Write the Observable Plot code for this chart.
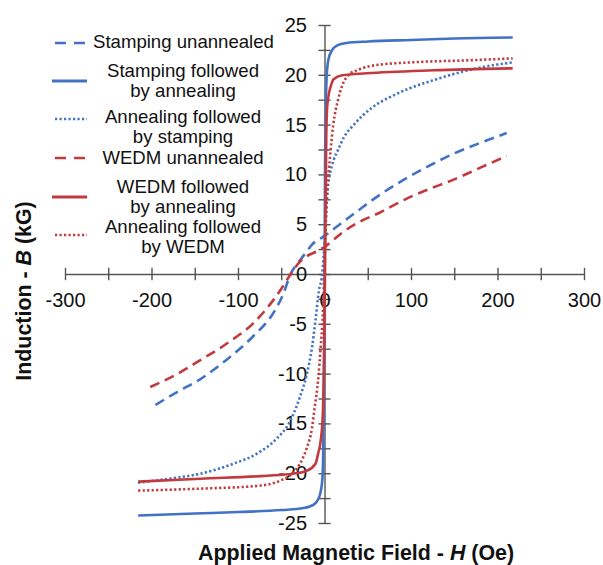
<!DOCTYPE html>
<html>
<head>
<meta charset="utf-8">
<script src="https://cdn.jsdelivr.net/npm/d3@7"></script>
<script src="https://cdn.jsdelivr.net/npm/@observablehq/plot@0.6"></script>
<style>
  body { margin: 0; background: #fff; }
  #wrap { position: relative; width: 603px; height: 565px; font-family: "Liberation Sans", Arial, sans-serif; color: #111; }
  #wrap svg.plot { position: absolute; left: 0; top: 0; }
  .ttl { position: absolute; font-weight: bold; font-size: 21.4px; white-space: nowrap; color: #111; }
  .leg { position: absolute; left: 93px; width: 180px; text-align: center; font-size: 18.6px; line-height: 20px; color: #111; white-space: nowrap; }
  #sw { position: absolute; left: 0; top: 0; }
</style>
</head>
<body>
<div id="wrap"></div>
<script>
// ---- Data: Applied field H (Oe) vs induction B (kG) ----
const stampingUnannealed = [[-196,-13.1],[-171,-11.8],[-144,-10.5],[-113,-8.5],[-83,-6.2],[-60,-3.9],[-48,-1.9],[-40,0],[-30,1.3],[-23,2.1],[-15,3.0],[0,3.9],[15,4.9],[38,6.4],[60,7.8],[87,9.3],[118,10.8],[148,12.1],[179,13.2],[210,14.2]];
const stampingAnnealed = [[-216,-24.2],[-150,-24.0],[-100,-23.85],[-50,-23.65],[-25,-23.45],[-13,-23.1],[-8,-22.6],[-5,-21.8],[-3,-20.5],[-2,-17.5],[-1.2,-10],[-0.5,0],[0,10],[0.8,16],[2,20],[4,21.6],[8,22.5],[14,23.0],[25,23.25],[50,23.4],[100,23.55],[150,23.7],[217,23.8]];
const annealingStamping = [[-216,-20.9],[-180,-20.5],[-144,-20.0],[-106,-19.0],[-79,-18.0],[-55,-16.4],[-42,-15.0],[-29,-12.3],[-21,-10.0],[-15,-7.3],[-11,-4.6],[-7,-1.6],[-3.3,0],[0,4],[1.5,6.5],[3,8.5],[5.5,10],[10,11.5],[15,12.5],[22,13.8],[33,15],[55,16.8],[75,17.8],[98,18.7],[125,19.5],[156,20.3],[187,20.9],[217,21.3]];
const wedmUnannealed = [[-202,-11.3],[-171,-10.0],[-148,-8.8],[-113,-6.9],[-83,-4.9],[-60,-2.6],[-48,-1.1],[-40,0],[-30,1.2],[-20,1.9],[-10,2.3],[0,2.8],[10,3.5],[20,4.2],[38,5.2],[63,6.2],[94,7.6],[121,8.6],[148,9.5],[179,10.7],[210,11.9]];
const wedmAnnealed = [[-216,-20.8],[-144,-20.5],[-67,-20.2],[-37,-20.0],[-21,-19.7],[-11,-19.0],[-8,-18.0],[-5,-16.7],[-2.5,-14],[-1,-8],[0,0],[0.8,8],[1.5,14],[2.5,16.8],[4.2,18],[7,19],[10,19.6],[20,20.0],[48,20.2],[125,20.5],[217,20.7]];
const annealingWedm = [[-216,-21.7],[-144,-21.5],[-75,-21.2],[-52,-20.7],[-38,-20.0],[-29,-19.0],[-21,-17.4],[-15,-15.4],[-12,-13.4],[-8,-10.6],[-5,-7.3],[-2.5,-4],[-1,0],[0.5,4],[2,7.5],[4,10],[6.5,12.5],[9.5,15],[15,17.5],[20,19],[27,20],[40,20.6],[57,21],[100,21.3],[164,21.5],[217,21.7]];

const seriesNames = [
  ["Stamping unannealed"],
  ["Stamping followed", "by annealing"],
  ["Annealing followed", "by stamping"],
  ["WEDM unannealed"],
  ["WEDM followed", "by annealing"],
  ["Annealing followed", "by WEDM"]
];
const seriesData = [stampingUnannealed, stampingAnnealed, annealingStamping, wedmUnannealed, wedmAnnealed, annealingWedm];
const seriesColors = ["#4272c6", "#4272c6", "#4272c6", "#c23a3e", "#c23a3e", "#c23a3e"];
const seriesDash = ["10,6", null, "2.2,2.3", "10,6", null, "2.2,2.3"];

const xTickValues = [-300,-250,-200,-150,-100,-50,0,50,100,150,200,250,300];
const xTickLabels = [-300,-200,-100,0,100,200,300];
const yTickValues = [-25,-22.5,-20,-17.5,-15,-12.5,-10,-7.5,-5,-2.5,0,2.5,5,7.5,10,12.5,15,17.5,20,22.5,25];
const yTickLabels = [-25,-20,-15,-10,-5,0,5,10,15,20,25];

const xTitle = ["Applied Magnetic Field - ", "H", " (Oe)"];
const yTitle = ["Induction - ", "B", " (kG)"];

// ---- Chart ----
const axisColor = "#555";
const curveMarks = seriesData.map((d, i) => Plot.line(d, {
  x: p => p[0], y: p => p[1],
  stroke: seriesColors[i],
  strokeWidth: 2.6,
  strokeLinecap: "butt",
  strokeDasharray: seriesDash[i] || undefined,
  curve: "monotone-x"
}));

const chart = Plot.plot({
  width: 603, height: 565,
  marginLeft: 65, marginRight: 19, marginTop: 25, marginBottom: 42,
  x: {domain: [-300, 300], axis: null},
  y: {domain: [-25, 25], axis: null},
  style: {fontFamily: "'Liberation Sans', Arial, sans-serif", background: "transparent", color: "#111"},
  marks: [
    Plot.ruleY([0], {stroke: axisColor, strokeWidth: 1.4}),
    Plot.ruleX([0], {stroke: axisColor, strokeWidth: 1.4}),
    Plot.ruleX(xTickValues, {x: d => d, y1: -0.62, y2: 0.62, stroke: axisColor, strokeWidth: 1.4}),
    Plot.ruleY(yTickValues, {y: d => d, x1: -7, x2: 7, stroke: axisColor, strokeWidth: 1.4}),
    Plot.text(xTickLabels, {x: d => d, y: 0, dy: 26, text: d => String(d), fontSize: 20, fill: "#111"}),
    Plot.text(yTickLabels, {x: 0, y: d => d, dx: -18, textAnchor: "end", text: d => String(d), fontSize: 20, fill: "#111"}),
    ...curveMarks
  ]
});
chart.classList.add("plot");
const wrap = document.getElementById("wrap");
wrap.appendChild(chart);

// ---- Axis titles ----
function titleHTML(parts) { return parts[0] + "<i>" + parts[1] + "</i>" + parts[2]; }
const xt = document.createElement("div");
xt.className = "ttl";
xt.innerHTML = titleHTML(xTitle);
xt.style.left = "356px"; xt.style.top = "553px";
xt.style.transform = "translate(-50%,-50%)";
wrap.appendChild(xt);
const yt = document.createElement("div");
yt.className = "ttl";
yt.innerHTML = titleHTML(yTitle);
yt.style.left = "24px"; yt.style.top = "291px";
yt.style.transform = "translate(-50%,-50%) rotate(-90deg)";
wrap.appendChild(yt);

// ---- Legend ----
const legTextTop = [32, 61, 107, 148, 177, 217];
const legSwatchY = [43, 81, 119, 158, 197, 235];
const ns = "http://www.w3.org/2000/svg";
const sw = document.createElementNS(ns, "svg");
sw.setAttribute("id", "sw"); sw.setAttribute("width", "100"); sw.setAttribute("height", "260");
seriesNames.forEach((lines, i) => {
  const div = document.createElement("div");
  div.className = "leg";
  div.style.top = legTextTop[i] + "px";
  div.innerHTML = lines.join("<br>");
  wrap.appendChild(div);
  const ln = document.createElementNS(ns, "line");
  const dashed = seriesDash[i];
  ln.setAttribute("x1", dashed ? 55 : 52); ln.setAttribute("x2", 87);
  ln.setAttribute("y1", legSwatchY[i]); ln.setAttribute("y2", legSwatchY[i]);
  ln.setAttribute("stroke", seriesColors[i]);
  ln.setAttribute("stroke-width", dashed ? 2.6 : 3);
  if (dashed) ln.setAttribute("stroke-dasharray", dashed === "10,6" ? "11,8" : dashed);
  sw.appendChild(ln);
});
wrap.appendChild(sw);
</script>
</body>
</html>
